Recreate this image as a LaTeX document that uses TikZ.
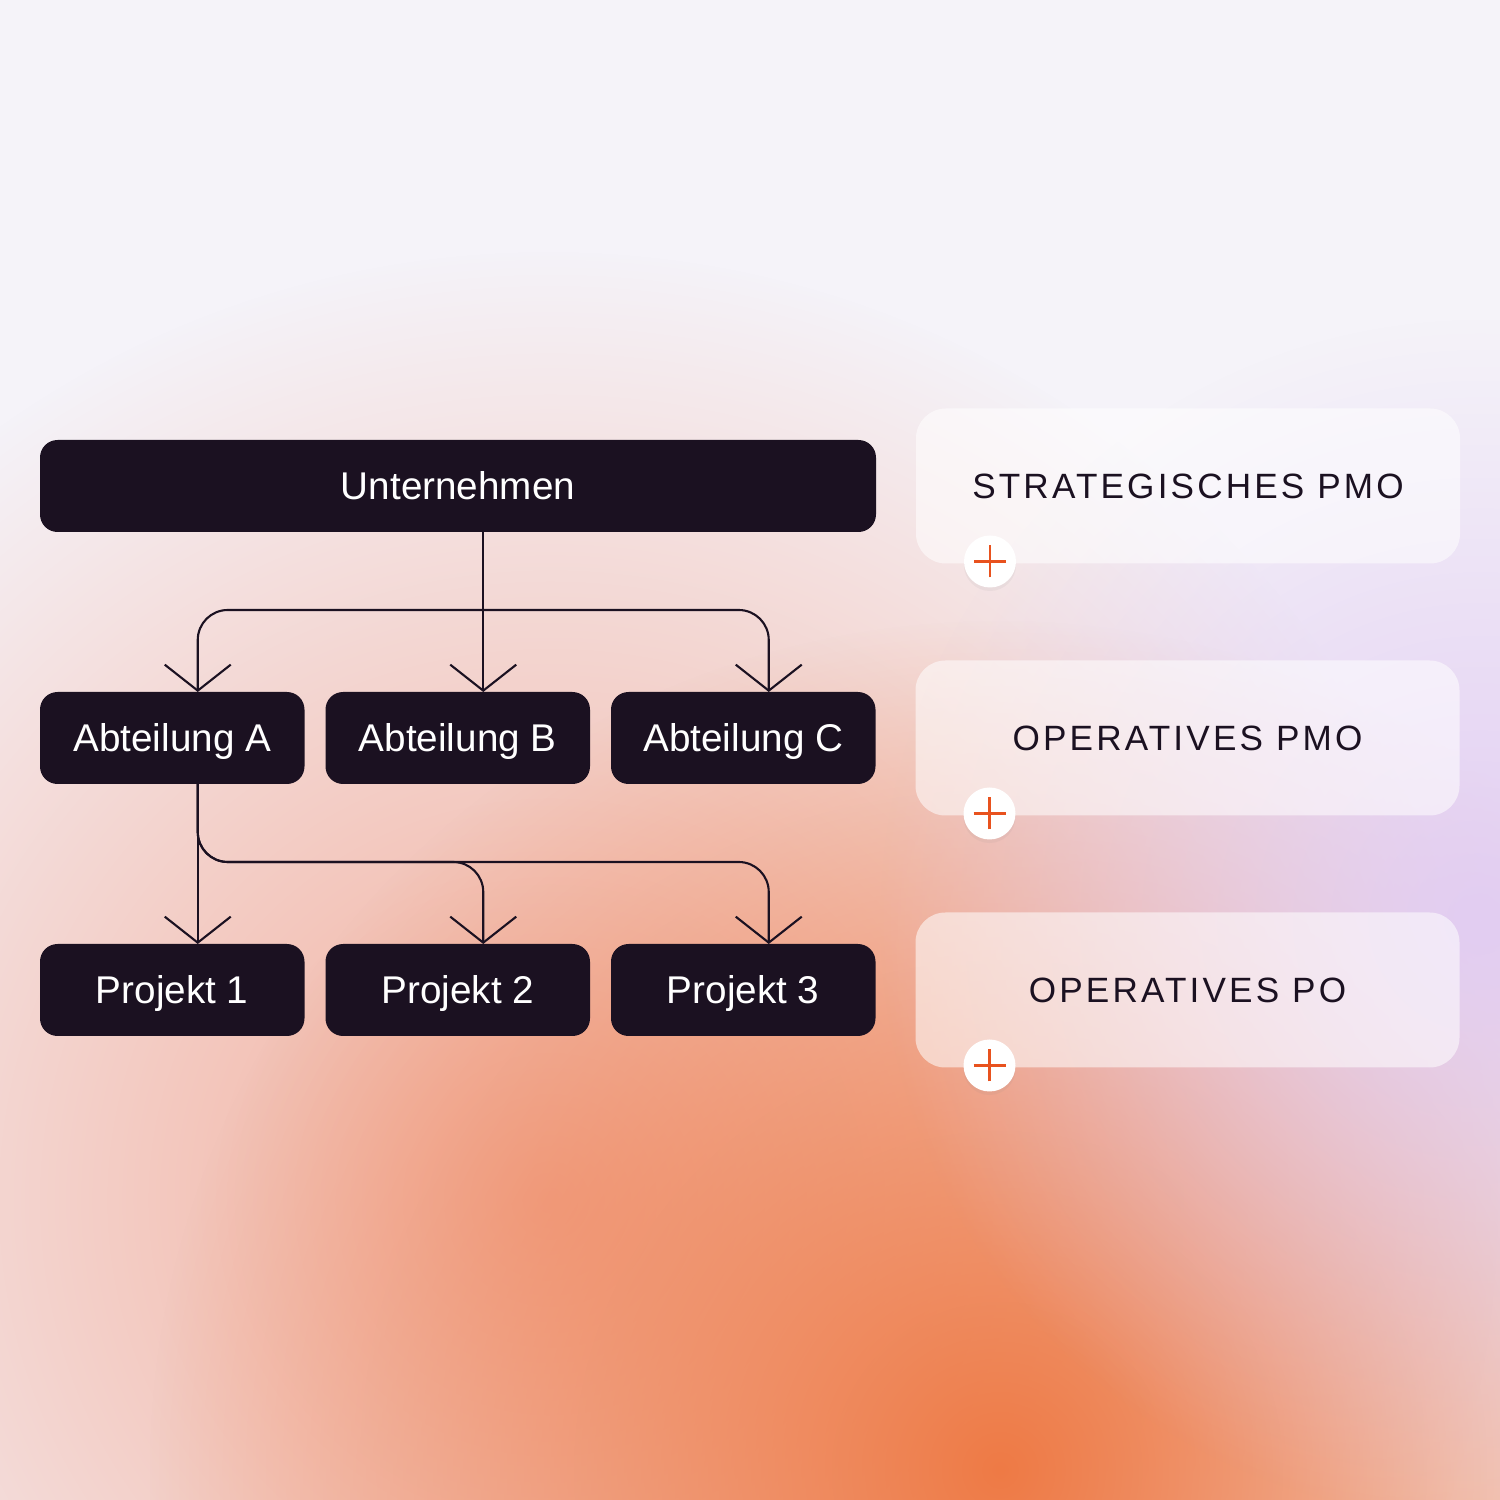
\documentclass[tikz,border=0pt]{standalone}
\usepackage{fontspec}
\setmainfont{Liberation Sans}
\newfontfamily\spacedfont[LetterSpace=9]{Liberation Sans}
\usetikzlibrary{positioning, calc, arrows.meta, shadows, fadings}

\definecolor{ink}{HTML}{1B1121}
\definecolor{accent}{HTML}{E8521E}
\definecolor{bgwhite}{HTML}{F5F3F9}
\definecolor{lavglow}{HTML}{E2CDF2}
\definecolor{salmonglow}{HTML}{F2AC98}
\definecolor{orangeglow}{HTML}{EE7A45}

\tikzfading[name=glowfade, inner color=transparent!0, outer color=transparent!100]

\begin{document}
\begin{tikzpicture}[
         >={Straight Barb[length=2.6mm,width=6.6mm]},
         unit/.style={rectangle, rounded corners=5pt, fill=ink, text=white,
            minimum width=2.645cm, minimum height=0.92cm, inner sep=0pt,
            outer sep=0pt, text height=7.9pt, text depth=0pt,
            font=\fontsize{11}{13}\selectfont},
         firmbox/.style={unit, minimum width=8.36cm},
         panel/.style={rectangle, rounded corners=8.5pt, fill=white, fill opacity=0.55,
            text opacity=1, text=ink, minimum width=5.44cm, minimum height=1.55cm,
            inner sep=0pt, outer sep=0pt, text height=7.2pt, text depth=0pt,
            font=\spacedfont\fontsize{10}{12}\selectfont},
         plus/.style={circle, fill=white, minimum size=0.52cm, inner sep=0pt,
            drop shadow={opacity=0.08, shadow xshift=0pt, shadow yshift=-1pt},
            path picture={
               \draw[accent, line width=0.6pt]
                  ([xshift=-0.16cm]path picture bounding box.center) --
                  ([xshift=0.16cm]path picture bounding box.center)
                  ([yshift=-0.16cm]path picture bounding box.center) --
                  ([yshift=0.16cm]path picture bounding box.center);}},
         link/.style={draw=ink, line width=0.6pt},
         glow/.style={path fading=glowfade}
      ]
         % Background
         \useasboundingbox (0,0) rectangle (15,15);
         \begin{scope}
            \clip (0,0) rectangle (15,15);
            \fill[bgwhite] (0,0) rectangle (15,15);
            \fill[salmonglow, glow] (5.5,3) circle (9.5);
            \fill[orangeglow, glow] (10,0.3) circle (8.5);
            \fill[lavglow, glow] (14.8,5.8) circle (6);
         \end{scope}

         % Nodes for the hierarchy
         \node[firmbox] (firm) at (4.58,10.14) {Unternehmen};
         \node[unit, below right=1.6cm and 0cm of firm.south west] (abtA) {Abteilung A};
         \node[unit, right=0.21cm of abtA] (abtB) {Abteilung B};
         \node[unit, right=0.21cm of abtB] (abtC) {Abteilung C};
         \node[unit, below=1.6cm of abtA] (proj1) {Projekt 1};
         \node[unit, below=1.6cm of abtB] (proj2) {Projekt 2};
         \node[unit, below=1.6cm of abtC] (proj3) {Projekt 3};

         % Panels with plus buttons
         \node[panel, right=0.4cm of firm] (pmoS) {STRATEGISCHES PMO};
         \node[panel, right=0.4cm of abtC] (pmoO) {OPERATIVES PMO};
         \node[panel, right=0.4cm of proj3] (poO) {OPERATIVES PO};
         \node[plus] (plusS) at ([xshift=0.74cm,yshift=0.02cm]pmoS.south west) {};
         \node[plus] (plusO) at ([xshift=0.74cm,yshift=0.02cm]pmoO.south west) {};
         \node[plus] (plusP) at ([xshift=0.74cm,yshift=0.02cm]poO.south west) {};

         % Connector ends
         \coordinate (tipA) at ([xshift=0.255cm]abtA.north);
         \coordinate (tipB) at ([xshift=0.255cm]abtB.north);
         \coordinate (tipC) at ([xshift=0.255cm]abtC.north);
         \coordinate (outA) at ([xshift=0.255cm]abtA.south);
         \coordinate (tipP1) at ([xshift=0.255cm]proj1.north);
         \coordinate (tipP2) at ([xshift=0.255cm]proj2.north);
         \coordinate (tipP3) at ([xshift=0.255cm]proj3.north);

         % Arrows
         \draw[link, ->] (firm.south -| tipB) -- (tipB);
         \draw[link, <->, rounded corners=0.3cm] (tipA) -- ++(0,0.82) -| (tipC);
         \draw[link, ->] (outA) -- (tipP1);
         \draw[link, ->, rounded corners=0.3cm] (outA) -- ++(0,-0.78) -| (tipP2);
         \draw[link, ->, rounded corners=0.3cm] (outA) -- ++(0,-0.78) -| (tipP3);

      \end{tikzpicture}
\end{document}
